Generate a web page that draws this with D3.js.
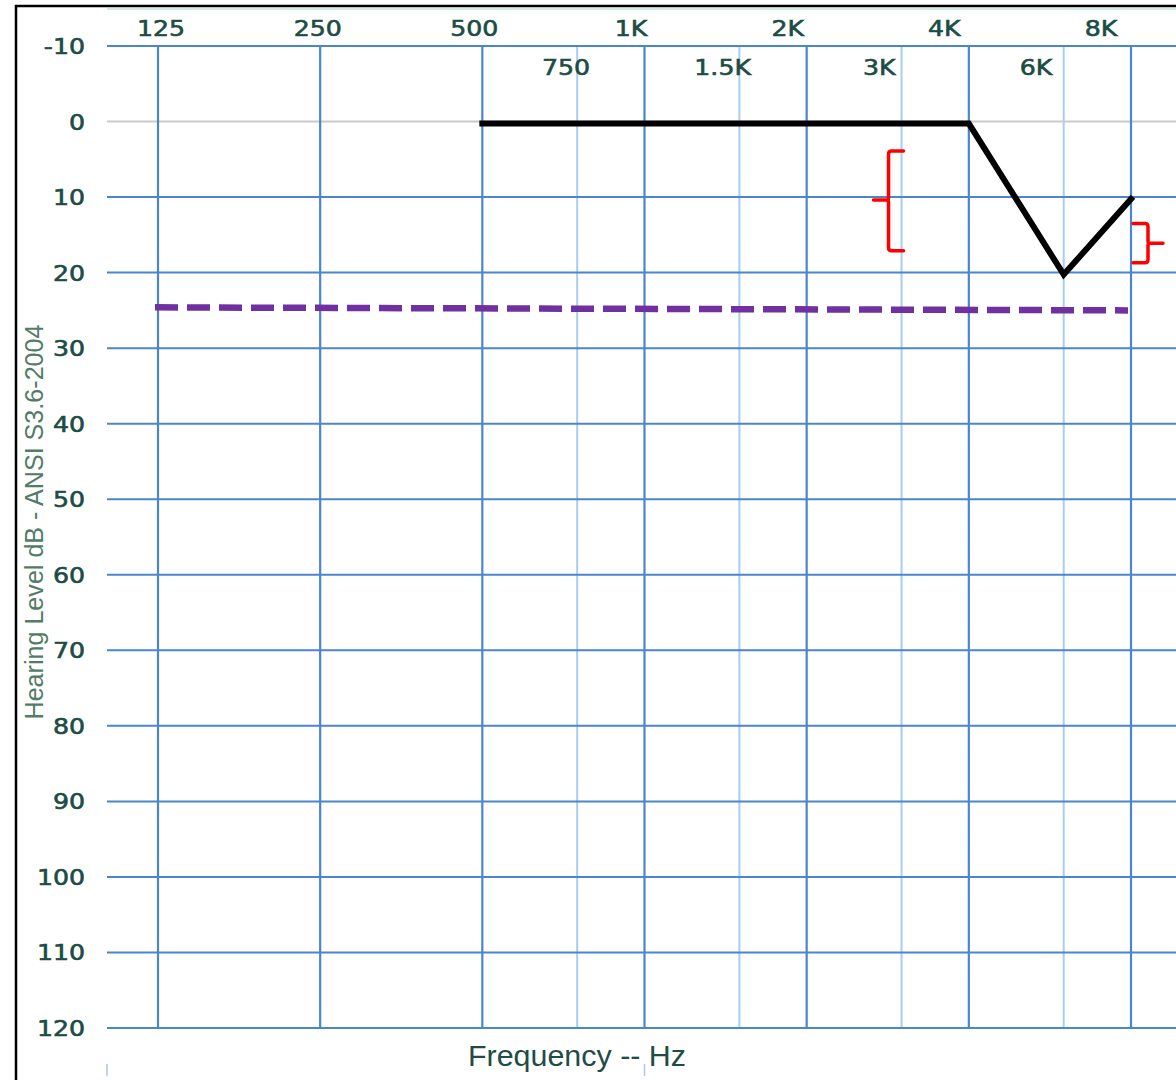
<!DOCTYPE html>
<html>
<head>
<meta charset="utf-8">
<script src="https://cdn.jsdelivr.net/npm/d3@7"></script>
<style>
  html, body { margin: 0; padding: 0; background: #fff; }
  svg { display: block; }
</style>
</head>
<body>
<svg id="chart" width="1176" height="1080"></svg>
<script>
// ---------- data ----------
const majorFreqs = [125, 250, 500, 1000, 2000, 4000, 8000];
const majorLabels = ["125", "250", "500", "1K", "2K", "4K", "8K"];
const minorFreqs = [750, 1500, 3000, 6000];
const minorLabels = ["750", "1.5K", "3K", "6K"];
const dbTicks = [-10, 0, 10, 20, 30, 40, 50, 60, 70, 80, 90, 100, 110, 120];

// audiogram threshold line (black)
const thresholdFreqs = [500, 1000, 2000, 3000, 4000, 6000, 8000];
const thresholdDb    = [0, 0, 0, 0, 0, 20, 10];

// normal hearing limit (purple dashed)
const limitFreqs = [125, 8000];
const limitDb    = [24.6, 25.0];

// red bracket annotations
const bracketFreqs  = [3000, 8000];
const bracketTop    = [3.9, 13.5];
const bracketMid    = [10.4, 16.1];
const bracketBottom = [17.1, 18.7];
const bracketSide   = [-1, 1];

// ---------- layout ----------
const svg = d3.select("#chart");
const gridLeft = 107, gridRight = 1180;

const x = d3.scaleLog().base(2).domain([125, 8000]).range([158, 1131]);
const y = d3.scaleLinear().domain([-10, 120]).range([46, 1028]);
// label placement scale (labels sit slightly offset from their lines)
const xl = d3.scaleLog().base(2).domain([125, 8000]).range([161, 1101]);

const textColor = "#1c4c44";

// frame
svg.append("rect")
  .attr("x", 16).attr("y", 6).attr("width", 1200).attr("height", 1100)
  .attr("fill", "none").attr("stroke", "#000").attr("stroke-width", 2.5);

// faint top line
svg.append("line")
  .attr("x1", gridLeft).attr("x2", gridRight).attr("y1", 9).attr("y2", 9)
  .attr("stroke", "#d4ebe2").attr("stroke-width", 2);

// minor vertical grid
svg.append("g").selectAll("line").data(minorFreqs).join("line")
  .attr("x1", d => x(d)).attr("x2", d => x(d))
  .attr("y1", y(-10)).attr("y2", y(120))
  .attr("stroke", "#a9cdf2").attr("stroke-width", 2);

// horizontal grid
svg.append("g").selectAll("line").data(dbTicks).join("line")
  .attr("x1", gridLeft).attr("x2", gridRight)
  .attr("y1", d => y(d)).attr("y2", d => y(d))
  .attr("stroke", d => d === 0 ? "#c9c9c9" : "#4a86cc")
  .attr("stroke-width", 2);

// major vertical grid
svg.append("g").selectAll("line").data(majorFreqs).join("line")
  .attr("x1", d => x(d)).attr("x2", d => x(d))
  .attr("y1", y(-10)).attr("y2", y(120))
  .attr("stroke", "#4a86cc").attr("stroke-width", 2.2);

// small bottom ticks
svg.append("g").selectAll("line").data([gridLeft, x(1000)]).join("line")
  .attr("x1", d => d).attr("x2", d => d)
  .attr("y1", 1064).attr("y2", 1076)
  .attr("stroke", "#a9c9ec").attr("stroke-width", 1.5);

// tick labels
const labelFont = "'DejaVu Sans', Verdana, sans-serif";
function stretchedText(g, data, fx, fy, anchor) {
  g.selectAll("text").data(data).join("text")
    .attr("transform", (d, i) => `translate(${fx(d, i)},${fy(d, i)}) scale(1.2,1)`)
    .attr("text-anchor", anchor)
    .attr("font-family", labelFont)
    .attr("font-size", 21)
    .attr("fill", textColor)
    .attr("stroke", textColor)
    .attr("stroke-width", 0.6)
    .text(d => d.label);
}
stretchedText(svg.append("g"),
  majorFreqs.map((f, i) => ({ f, label: majorLabels[i] })),
  d => xl(d.f), () => 36, "middle");
stretchedText(svg.append("g"),
  minorFreqs.map((f, i) => ({ f, label: minorLabels[i] })),
  d => xl(d.f), () => 75, "middle");
stretchedText(svg.append("g"),
  dbTicks.map(v => ({ v, label: String(v) })),
  () => 85, d => y(d.v) + 8, "end");

// y-axis title
svg.append("text")
  .attr("transform", `translate(43,${522}) rotate(-90)`)
  .attr("text-anchor", "middle")
  .attr("font-family", "'Liberation Sans', Arial, sans-serif")
  .attr("font-size", 25)
  .attr("textLength", 395)
  .attr("lengthAdjust", "spacingAndGlyphs")
  .attr("fill", "#527c66")
  .text("Hearing Level dB - ANSI S3.6-2004");

// x-axis title
svg.append("text")
  .attr("x", 577).attr("y", 1066)
  .attr("text-anchor", "middle")
  .attr("font-family", "'Liberation Sans', Arial, sans-serif")
  .attr("font-size", 29)
  .attr("textLength", 218)
  .attr("lengthAdjust", "spacingAndGlyphs")
  .attr("fill", "#1f4c46")
  .text("Frequency -- Hz");

// purple dashed limit line
const limitLine = d3.line().x(d => x(d.f)).y(d => y(d.v));
svg.append("path")
  .datum(limitFreqs.map((f, i) => ({ f, v: limitDb[i] })))
  .attr("d", limitLine)
  .attr("fill", "none")
  .attr("stroke", "#7030a0")
  .attr("stroke-width", 6.5)
  .attr("stroke-dasharray", "23,9")
  .attr("transform", "translate(-3,0)");

// black threshold line
svg.append("path")
  .datum(thresholdFreqs.map((f, i) => ({ f, v: thresholdDb[i] })))
  .attr("d", d3.line().x(d => x(d.f)).y(d => y(d.v) + 2))
  .attr("fill", "none")
  .attr("stroke", "#000")
  .attr("stroke-width", 6)
  .attr("stroke-linejoin", "miter")
  .attr("stroke-linecap", "square");

// red brackets
const brackets = bracketFreqs.map((f, i) => ({
  f, top: bracketTop[i], mid: bracketMid[i], bottom: bracketBottom[i], s: bracketSide[i]
}));
svg.append("g").selectAll("path").data(brackets).join("path")
  .attr("d", b => {
    const x0 = x(b.f) + 2;
    const xs = x0 + 15 * b.s;   // spine
    const xt = x0 + 30 * b.s;   // tip
    const yt = y(b.top), ym = y(b.mid), yb = y(b.bottom);
    return `M${x0},${yt} L${xs - 3 * b.s},${yt} Q${xs},${yt} ${xs},${yt + 3} L${xs},${ym - 2} ` +
           `Q${xs},${ym} ${xs + 3 * b.s},${ym} L${xt},${ym} M${xs + 3 * b.s},${ym} Q${xs},${ym} ${xs},${ym + 2} ` +
           `L${xs},${yb - 3} Q${xs},${yb} ${xs - 3 * b.s},${yb} L${x0},${yb}`;
  })
  .attr("fill", "none")
  .attr("stroke", "#ff0000")
  .attr("stroke-width", 3.5)
  .attr("stroke-linecap", "round")
  .attr("stroke-linejoin", "round");
</script>
</body>
</html>
